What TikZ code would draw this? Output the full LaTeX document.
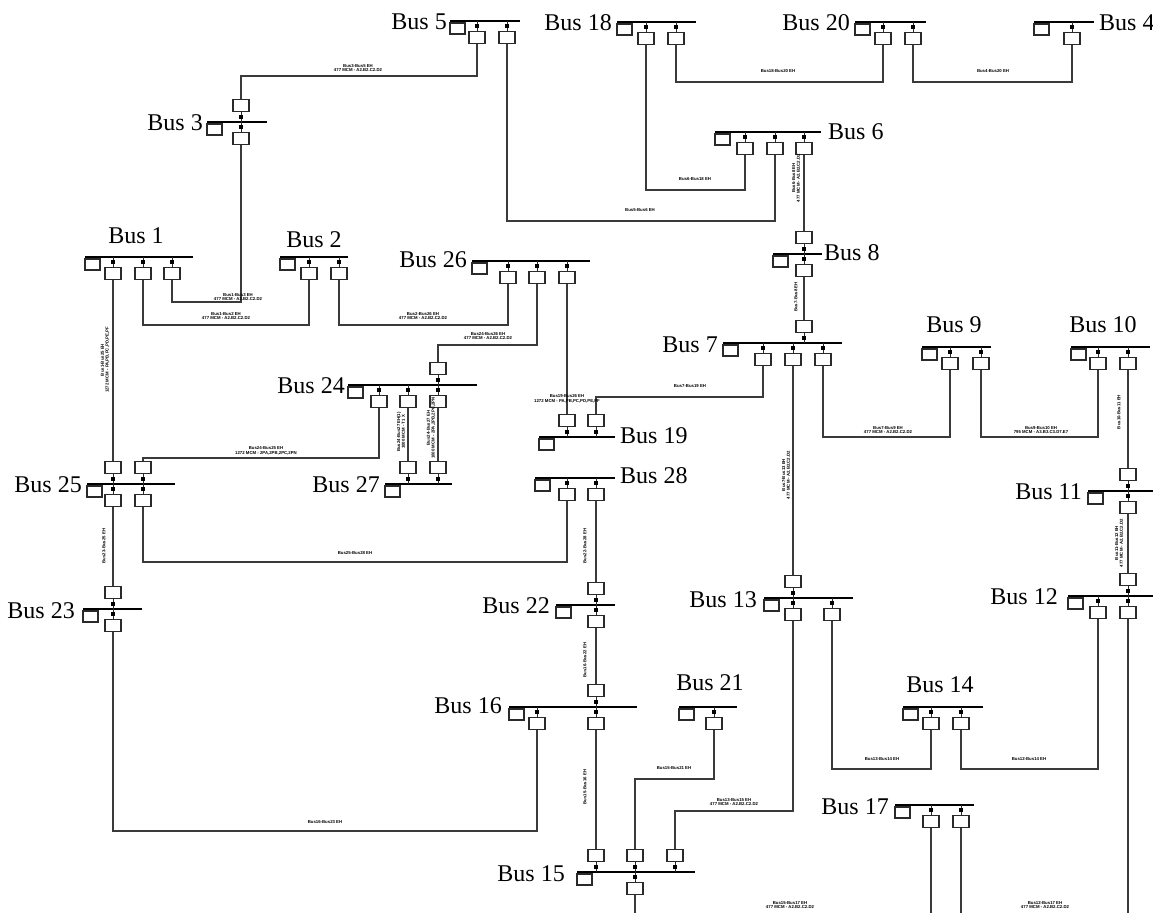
\documentclass[tikz,border=0pt]{standalone}
\usepackage{fontspec}
\setmainfont{Liberation Serif}
\newfontfamily\lblf{Liberation Sans}
\definecolor{wirec}{HTML}{3A3A3A}
\definecolor{boxc}{HTML}{2A2A2A}
\tikzset{
 wire/.style={draw=wirec, line width=1.2pt},
 stemline/.style={draw=boxc, line width=0.9pt},
 barline/.style={line width=2.2pt, black},
 lbox/.style={draw=boxc, line width=1.1pt, minimum width=15pt, minimum height=11pt, inner sep=0pt, fill=white},
 brk/.style={draw=boxc, line width=1.1pt, minimum width=16pt, minimum height=12pt, inner sep=0pt, fill=white},
 busname/.style={font=\fontsize{24}{24}\selectfont, inner sep=0pt},
 tl/.style={font=\lblf\bfseries\fontsize{4.3}{4.7}\selectfont, align=center, inner sep=0pt},
 vl/.style={tl, rotate=90},
}
\newcommand\busbar[4]{\draw[barline] (#2,#4) -- (#3,#4); \node[lbox] (#1) at ({#2+7.5},{#4+7.5}) {};}
\newcommand\bkd[3]{\draw[stemline] (#2,#3) -- (#2,{#3+10.5});
 \fill[black] ({#2-2},{#3+3.2}) rectangle ({#2+2},{#3+7.4});
 \node[brk] (#1) at (#2,{#3+16.5}) {};}
\newcommand\bku[3]{\draw[stemline] (#2,#3) -- (#2,{#3-10.5});
 \fill[black] ({#2-2},{#3-3.2}) rectangle ({#2+2},{#3-7.4});
 \node[brk] (#1) at (#2,{#3-16.5}) {};}
\newcommand\wireH[3]{\coordinate (tmpy) at (0,#2);
 \draw[wire] (#1) -- (#1 |- tmpy) -| (#3);}
\begin{document}
\begin{tikzpicture}[x=1pt,y=-1pt]
\useasboundingbox (0,0) rectangle (1153,913);
\fill[white] (0,0) rectangle (1153,913);
\coordinate (bot) at (0,913);
% buses
\busbar{L5}{450}{520}{21}
\bkd{b5a}{477}{21}\bkd{b5b}{507}{21}
\busbar{L18}{617}{696}{22}
\bkd{b18a}{646}{22}\bkd{b18b}{676}{22}
\busbar{L20}{855}{926}{22}
\bkd{b20a}{883}{22}\bkd{b20b}{913}{22}
\busbar{L4}{1034}{1094}{22}
\bkd{b4a}{1072}{22}
\busbar{L3}{207}{267}{122}
\bku{b3u}{241}{122}\bkd{b3d}{241}{122}
\busbar{L6}{715}{821}{132}
\bkd{b6a}{745}{132}\bkd{b6b}{775}{132}\bkd{b6c}{804}{132}
\busbar{L1}{85}{193}{257}
\bkd{b1a}{113}{257}\bkd{b1b}{143}{257}\bkd{b1c}{172}{257}
\busbar{L2}{280}{348}{257}
\bkd{b2a}{309}{257}\bkd{b2b}{339}{257}
\busbar{L26}{472}{590}{261}
\bkd{b26a}{508}{261}\bkd{b26b}{537}{261}\bkd{b26c}{567}{261}
\busbar{L8}{773}{822}{254}
\bku{b8u}{804}{254}\bkd{b8d}{804}{254}
\busbar{L7}{723}{842}{343}
\bku{b7u}{804}{343}\bkd{b7a}{763}{343}\bkd{b7b}{793}{343}\bkd{b7c}{823}{343}
\busbar{L9}{922}{991}{347}
\bkd{b9a}{950}{347}\bkd{b9b}{981}{347}
\busbar{L10}{1071}{1150}{347}
\bkd{b10a}{1098}{347}\bkd{b10b}{1128}{347}
\busbar{L24}{348}{477}{385}
\bku{b24u}{438}{385}\bkd{b24a}{379}{385}\bkd{b24b}{408}{385}\bkd{b24c}{438}{385}
\busbar{L19}{539}{615}{437}
\bku{b19a}{567}{437}\bku{b19b}{596}{437}
\busbar{L27}{385}{452}{484}
\bku{b27a}{408}{484}\bku{b27b}{438}{484}
\busbar{L25}{87}{175}{484}
\bku{b25a}{113}{484}\bku{b25b}{143}{484}\bkd{b25c}{113}{484}\bkd{b25d}{143}{484}
\busbar{L28}{535}{615}{478}
\bkd{b28a}{567}{478}\bkd{b28b}{596}{478}
\busbar{L11}{1088}{1153}{491}
\bku{b11u}{1128}{491}\bkd{b11d}{1128}{491}
\busbar{L23}{83}{142}{609}
\bku{b23u}{113}{609}\bkd{b23d}{113}{609}
\busbar{L22}{556}{615}{605}
\bku{b22u}{596}{605}\bkd{b22d}{596}{605}
\busbar{L13}{764}{853}{598}
\bku{b13u}{793}{598}\bkd{b13a}{793}{598}\bkd{b13b}{832}{598}
\busbar{L12}{1068}{1153}{596}
\bku{b12u}{1128}{596}\bkd{b12a}{1098}{596}\bkd{b12b}{1128}{596}
\busbar{L14}{903}{983}{707}
\bkd{b14a}{931}{707}\bkd{b14b}{961}{707}
\busbar{L16}{509}{637}{707}
\bku{b16u}{596}{707}\bkd{b16a}{537}{707}\bkd{b16b}{596}{707}
\busbar{L21}{679}{737}{707}
\bkd{b21a}{714}{707}
\busbar{L17}{895}{974}{805}
\bkd{b17a}{931}{805}\bkd{b17b}{961}{805}
\busbar{L15}{577}{695}{872}
\bku{b15a}{596}{872}\bku{b15b}{635}{872}\bku{b15c}{675}{872}\bkd{b15d}{635}{872}
% bus names
\node[busname, anchor=base east] (n5) at (447,29) {Bus 5};
\node[busname, anchor=base east] (n18) at (612,30) {Bus 18};
\node[busname, anchor=base east] (n20) at (850,30) {Bus 20};
\node[busname, anchor=base west] (n4) at (1099,30) {Bus 4};
\node[busname, anchor=base east] (n3) at (203,130) {Bus 3};
\node[busname, anchor=base west] (n6) at (828,139) {Bus 6};
\node[busname, anchor=base] (n1) at (136,243) {Bus 1};
\node[busname, anchor=base] (n2) at (314,247) {Bus 2};
\node[busname, anchor=base east] (n26) at (467,267) {Bus 26};
\node[busname, anchor=base west] (n8) at (824,260) {Bus 8};
\node[busname, anchor=base east] (n7) at (718,352) {Bus 7};
\node[busname, anchor=base] (n9) at (954,332) {Bus 9};
\node[busname, anchor=base] (n10) at (1103,332) {Bus 10};
\node[busname, anchor=base east] (n24) at (345,393) {Bus 24};
\node[busname, anchor=base west] (n19) at (620,443) {Bus 19};
\node[busname, anchor=base east] (n27) at (380,492) {Bus 27};
\node[busname, anchor=base east] (n25) at (82,492) {Bus 25};
\node[busname, anchor=base west] (n28) at (620,483) {Bus 28};
\node[busname, anchor=base east] (n11) at (1082,499) {Bus 11};
\node[busname, anchor=base east] (n23) at (75,618) {Bus 23};
\node[busname, anchor=base east] (n22) at (550,613) {Bus 22};
\node[busname, anchor=base east] (n13) at (757,607) {Bus 13};
\node[busname, anchor=base east] (n12) at (1058,604) {Bus 12};
\node[busname, anchor=base] (n14) at (940,692) {Bus 14};
\node[busname, anchor=base east] (n16) at (502,713) {Bus 16};
\node[busname, anchor=base] (n21) at (710,690) {Bus 21};
\node[busname, anchor=base east] (n17) at (889,814) {Bus 17};
\node[busname, anchor=base east] (n15) at (565,881) {Bus 15};
% wires
\wireH{b5a.south}{76}{b3u.north}
\wireH{b5b.south}{221}{b6b.south}
\wireH{b18a.south}{190}{b6a.south}
\wireH{b18b.south}{82}{b20a.south}
\wireH{b20b.south}{82}{b4a.south}
\draw[wire] (b6c.south) -- (b8u.north);
\draw[wire] (b8d.south) -- (b7u.north);
\wireH{b3d.south}{302}{b1c.south}
\wireH{b1b.south}{325}{b2a.south}
\wireH{b2b.south}{325}{b26a.south}
\wireH{b26b.south}{345}{b24u.north}
\draw[wire] (b26c.south) -- (b19a.north);
\draw[wire] (b1a.south) -- (b25a.north);
\wireH{b24a.south}{458}{b25b.north}
\draw[wire] (b24b.south) -- (b27a.north);
\draw[wire] (b24c.south) -- (b27b.north);
\wireH{b7a.south}{397}{b19b.north}
\draw[wire] (b7b.south) -- (b13u.north);
\wireH{b7c.south}{437}{b9a.south}
\wireH{b9b.south}{437}{b10a.south}
\draw[wire] (b10b.south) -- (b11u.north);
\draw[wire] (b11d.south) -- (b12u.north);
\draw[wire] (b25c.south) -- (b23u.north);
\wireH{b25d.south}{562}{b28a.south}
\draw[wire] (b28b.south) -- (b22u.north);
\draw[wire] (b22d.south) -- (b16u.north);
\wireH{b23d.south}{831}{b16a.south}
\draw[wire] (b16b.south) -- (b15a.north);
\wireH{b21a.south}{779}{b15b.north}
\wireH{b13a.south}{811}{b15c.north}
\wireH{b13b.south}{769}{b14a.south}
\wireH{b14b.south}{769}{b12a.south}
\draw[wire] (b12b.south) -- (b12b.south |- bot);
\draw[wire] (b17a.south) -- (b17a.south |- bot);
\draw[wire] (b17b.south) -- (b17b.south |- bot);
\draw[wire] (b15d.south) -- (b15d.south |- bot);
% line labels
\node[tl] (t1) at (358,68) {Bus3-Bus5 EH\\477 MCM - A2.B2.C2.D2};
\node[tl] (t2) at (778,71) {Bus18-Bus20 EH};
\node[tl] (t3) at (993,71) {Bus4-Bus20 EH};
\node[tl] (t4) at (695,179) {Bus6-Bus18 EH};
\node[tl] (t5) at (640,210) {Bus5-Bus6 EH};
\node[tl] (t6) at (238,297) {Bus1-Bus3 EH\\477 MCM - A2.B2.C2.D2};
\node[tl] (t7) at (226,316) {Bus1-Bus2 EH\\477 MCM - A2.B2.C2.D2};
\node[tl] (t8) at (423,316) {Bus2-Bus26 EH\\477 MCM - A2.B2.C2.D2};
\node[tl] (t9) at (488,336) {Bus24-Bus26 EH\\477 MCM - A2.B2.C2.D2};
\node[tl] (t10) at (567,399) {Bus19-Bus26 EH\\1272 MCM - PA,PB,PC,PD,PE,PF};
\node[tl] (t11) at (690,386) {Bus7-Bus19 EH};
\node[tl] (t12) at (266,451) {Bus24-Bus25 EH\\1272 MCM - 2PA,2PB,2PC,2PN};
\node[tl] (t13) at (888,430) {Bus7-Bus9 EH\\477 MCM - A2.B2.C2.D2};
\node[tl] (t14) at (1041,430) {Bus9-Bus10 EH\\795 MCM - A3.B3.C3.D7.E7};
\node[tl] (t15) at (355,553) {Bus25-Bus28 EH};
\node[tl] (t16) at (325,822) {Bus16-Bus23 EH};
\node[tl] (t17) at (674,768) {Bus15-Bus21 EH};
\node[tl] (t18) at (734,802) {Bus13-Bus15 EH\\477 MCM - A2.B2.C2.D2};
\node[tl] (t19) at (882,759) {Bus13-Bus14 EH};
\node[tl] (t20) at (1029,759) {Bus12-Bus14 EH};
\node[tl] (t21) at (790,905) {Bus15-Bus17 EH\\477 MCM - A2.B2.C2.D2};
\node[tl] (t22) at (1045,905) {Bus12-Bus17 EH\\477 MCM - A2.B2.C2.D2};
\node[vl] (v1) at (105,360) {Bus1-Bus25 EH\\1272 MCM - PA,PB,PC,PD,PE,PF};
\node[vl] (v2) at (104,546) {Bus23-Bus25 EH};
\node[vl] (v3) at (401,432) {Bus24-Bus27 EH(1)\\1000 MCM - T1 X};
\node[vl] (v4) at (431,428) {Bus24-Bus27 EH\\1000 MCM - 2PA,2PB,2PC,2PN};
\node[vl] (v5) at (585,546) {Bus22-Bus28 EH};
\node[vl] (v6) at (585,660) {Bus16-Bus22 EH};
\node[vl] (v7) at (585,787) {Bus15-Bus16 EH};
\node[vl] (v8) at (796,297) {Bus7-Bus8 EH};
\node[vl] (v9) at (796,178) {Bus6-Bus8 EH\\477 MCM - A2.B2.C2.D2};
\node[vl] (v10) at (786,475) {Bus7-Bus13 EH\\477 MCM - A2.B2.C2.D2};
\node[vl] (v11) at (1119,412) {Bus10-Bus11 EH};
\node[vl] (v12) at (1119,543) {Bus11-Bus12 EH\\477 MCM - A2.B2.C2.D2};
\end{tikzpicture}
\end{document}
